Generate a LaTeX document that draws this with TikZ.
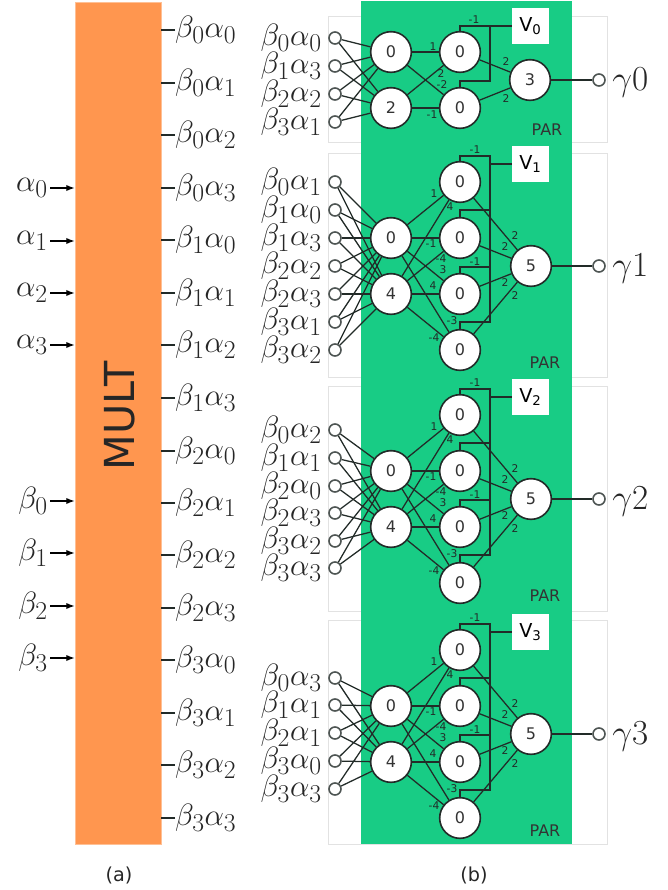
\documentclass[tikz,border=0pt]{standalone}
\usepackage{fontspec}
\setmainfont{DejaVu Sans}
\usetikzlibrary{arrows.meta,positioning}
\definecolor{multorange}{HTML}{FF964F}
\definecolor{pargreen}{HTML}{18CC85}
\definecolor{wirenavy}{HTML}{222B28}
\definecolor{framegray}{HTML}{E2E2E2}
\tikzset{
    term/.style={
        font=\Huge,scale=.93,inner sep=0pt,text=black!85
    },
    gammaterm/.style={
        font=\Huge,scale=1.06,inner sep=0pt,text=black!85
    },
    fa/.style={
        circle,draw=wirenavy,line width=1.2pt,fill=white,
        minimum size=30.5pt,inner sep=0pt,font=\large,text=black!80
    },
    pin/.style={
        circle,draw=wirenavy!80,line width=1.2pt,fill=white,
        minimum size=9pt,inner sep=0pt
    },
    wire/.style={
        draw=wirenavy,line width=.95pt
    },
    arrow/.style={
        -{Latex[length=2.2mm]},line width=.9pt,draw=black
    },
    frame/.style={
        draw=framegray,line width=.5pt,fill=white
    },
    weight/.style={
        font=\footnotesize,inner sep=0pt,text=wirenavy
    },
    vbox/.style={
        fill=white,inner sep=0pt,minimum width=27.5pt,minimum height=27.5pt,font=\Large
    }
}
\begin{document}
\begin{tikzpicture}[x=.75pt,y=-.75pt]
\useasboundingbox (0,0) rectangle (668,890);

% frames behind the PAR blocks
\draw[frame] (328,16) rectangle (607,142);
\draw[frame] (328,153) rectangle (607,377);
\draw[frame] (328,386) rectangle (607,611);
\draw[frame] (328,620) rectangle (607,844);
\fill[pargreen] (361,1) rectangle (572,844);

% MULT
\node[fill=multorange,draw=multorange!60,line width=.5pt,minimum width=64.5pt,minimum height=631.5pt,inner sep=0pt](mult) at (118,423) {};
\node[rotate=90,font=\fontsize{31}{32}\selectfont,text=black!85](multlabel) at (120,416) {MULT};

\foreach \i/\y in {0/188,1/241,2/293,3/345}
    {\node[term,anchor=east](a\i) at (48,\y) {$\alpha_\i$};
    \draw[arrow] (a\i.east) ++(2,0) -- (a\i.east -| mult.west);}
\foreach \i/\y in {0/501,1/553,2/606,3/658}
    {\node[term,anchor=east](b\i) at (48,\y) {$\beta_\i$};
    \draw[arrow] (b\i.east) ++(2,0) -- (b\i.east -| mult.west);}

\foreach \b/\a/\y in {0/0/30,0/1/83,0/2/135,0/3/188,1/0/240,1/1/293,1/2/345,1/3/398,
    2/0/451,2/1/503,2/2/555,2/3/608,3/0/660,3/1/713,3/2/765,3/3/818}
    {\node[term,anchor=west](p\b\a) at (175,\y) {$\beta_\b\alpha_\a$};
    \draw[wire] (p\b\a.west) -- (p\b\a.west -| mult.east);}

% block 0
\node[fa](s0a) at (391,52) {0};
\node[fa](s0b) at (391,108) {2};
\node[fa](t0a) at (460,52) {0};
\node[fa](t0b) at (460,108) {0};
\node[fa](u0) at (530,80) {3};
\node[pin](g0) at (599,80) {};
\node[gammaterm,anchor=west](gl0) at (612,83) {$\gamma0$};
\node[vbox](v0) at (530.5,26) {V\textsubscript{0}};
\foreach \n/\y/\b/\a in {0/38/0/0,1/66/1/3,2/94/2/2,3/122/3/1}
    {\node[pin](i0\n) at (335,\y) {};
    \node[term,anchor=east](il0\n) at (322,\y) {$\beta_\b\alpha_\a$};
    \draw[wire] (i0\n) -- (s0a);
    \draw[wire] (i0\n) -- (s0b);}
\foreach \s in {a,b}
    {\draw[wire] (s0\s) -- (t0a);
    \draw[wire] (s0\s) -- (t0b);}
\draw[wire] (t0a) -- (u0);
\draw[wire] (t0b) -- (u0);
\draw[wire] (u0) -- (g0);
\draw[wire] (v0.west) -- (490,26) -- (490,81) -| (t0b.north);
\draw[wire] (t0a.north) |- (490,26);
\foreach \x/\y/\w in {433/47/1,441/74/2,442/85/-2,432/115/-1,474/20/-1,506/62/2,506/99/2}
    \node[weight] at (\x,\y) {\w};
\node[font=\large,text=black!80] at (547,130) {PAR};

% blocks 1 to 3
\foreach \k/\Y in {1/182,2/415,3/650}{
    \node[fa](s\k a) at (391,\Y+56) {0};
    \node[fa](s\k b) at (391,\Y+112) {4};
    \node[fa](t\k a) at (460,\Y) {0};
    \node[fa](t\k b) at (460,\Y+56) {0};
    \node[fa](t\k c) at (460,\Y+112) {0};
    \node[fa](t\k d) at (460,\Y+168) {0};
    \node[fa](u\k) at (531,\Y+84) {5};
    \node[pin](g\k) at (599,\Y+84) {};
    \node[gammaterm,anchor=west](gl\k) at (612,\Y+87) {$\gamma\k$};
    \node[vbox](v\k) at (530.5,\Y-18) {V\textsubscript{\k}};
    \foreach \s in {a,b}
        \foreach \t in {a,b,c,d}
            \draw[wire] (s\k\s) -- (t\k\t);
    \foreach \t in {a,b,c,d}
        \draw[wire] (t\k\t) -- (u\k);
    \draw[wire] (u\k) -- (g\k);
    % bus to V
    \draw[wire] (v\k.west) -- (490,\Y-18);
    \draw[wire] (t\k a.north) |- (490,\Y-26) -- (490,\Y+140) -| (t\k d.north);
    \draw[wire] (t\k b.north) |- (490,\Y+28);
    \draw[wire] (t\k c.north) |- (490,\Y+85);
    \foreach \x/\y/\w in {434/12/1,450/25/4,431/62/-1,441/77/-4,443/88/3,433/104/4,434/156/-4,
        475/-32/-1,475/80/-1,452/139/-3,515/54/2,505/65/2,505/101/2,515/114/2}
        \node[weight] at (\x,\Y+\y) {\w};
    \node[font=\large,text=black!80] at (545,\Y+181) {PAR};
}

% inputs of blocks 1 to 3
\foreach \n/\y/\b/\a in {0/182/0/1,1/210/1/0,2/238/1/3,3/266/2/2,4/294/2/3,5/322/3/1,6/350/3/2}
    {\node[pin](i1\n) at (335,\y) {};
    \node[term,anchor=east](il1\n) at (322,\y) {$\beta_\b\alpha_\a$};
    \draw[wire] (i1\n) -- (s1a);
    \draw[wire] (i1\n) -- (s1b);}
\foreach \n/\y/\b/\a in {0/430/0/2,1/458/1/1,2/486/2/0,3/513/2/3,4/541/3/2,5/568/3/3}
    {\node[pin](i2\n) at (335,\y) {};
    \node[term,anchor=east](il2\n) at (322,\y) {$\beta_\b\alpha_\a$};
    \draw[wire] (i2\n) -- (s2a);
    \draw[wire] (i2\n) -- (s2b);}
\foreach \n/\y/\b/\a in {0/678/0/3,1/705/1/1,2/733/2/1,3/761/3/0,4/789/3/3}
    {\node[pin](i3\n) at (335,\y) {};
    \node[term,anchor=east](il3\n) at (322,\y) {$\beta_\b\alpha_\a$};
    \draw[wire] (i3\n) -- (s3a);
    \draw[wire] (i3\n) -- (s3b);}

\node[font=\Large,text=black!85](capa) at (119,875) {(a)};
\node[font=\Large,text=black!85](capb) at (474,875) {(b)};

\end{tikzpicture}
\end{document}
